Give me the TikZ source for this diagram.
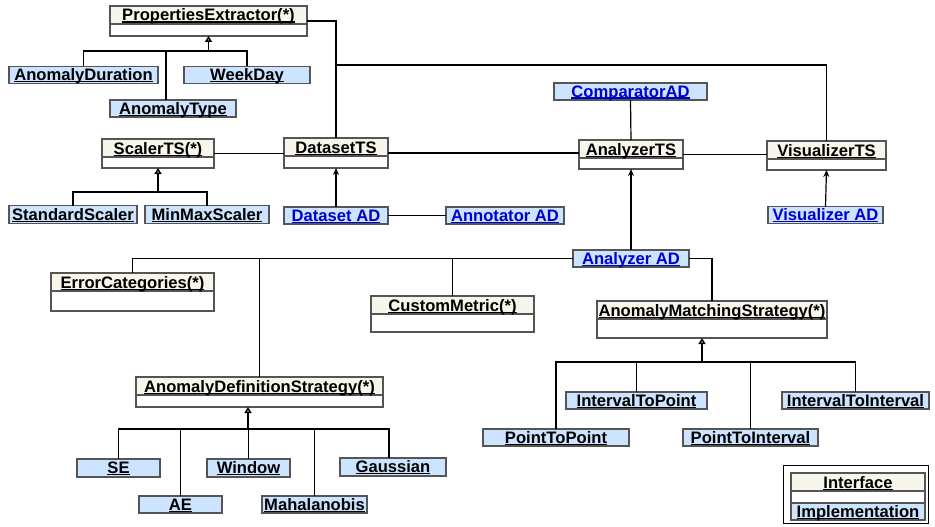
\documentclass[tikz,border=0pt]{standalone}
\usepackage{fontspec}
\setmainfont{Liberation Sans}
\usetikzlibrary{arrows.meta, positioning}
\definecolor{hdrC}{RGB}{248,245,234}
\definecolor{implC}{RGB}{204,228,255}
\definecolor{edgeC}{RGB}{85,85,85}
\definecolor{adC}{RGB}{0,0,205}
\newcommand\uln[1]{\setbox0=\hbox{#1}\rlap{\rule[-1.6pt]{\wd0}{1.1pt}}\box0}
\tikzset{
  boxfont/.style={font=\fontsize{16.6pt}{19pt}\selectfont\bfseries},
  impl/.style={boxfont, draw=edgeC, line width=1.2pt, fill=implC, inner sep=0pt, outer sep=0pt,
    minimum height=17pt, text height=13pt, text depth=2pt},
  adimpl/.style={impl, text=adC},
  iface/.style={boxfont, draw=edgeC, line width=1.2pt, fill=white, inner sep=0pt, outer sep=0pt, text height=14pt,
    path picture={\fill[hdrC] (path picture bounding box.north west) rectangle ([yshift=-18pt]path picture bounding box.north east);
      \draw[edgeC, line width=1.2pt] ([yshift=-18pt]path picture bounding box.north west) -- ([yshift=-18pt]path picture bounding box.north east);}},
  conn/.style={line width=1.2pt},
  inherit/.style={line width=1.5pt, -{Triangle[open, length=6pt, width=7pt]}},
  uses/.style={line width=1.2pt, -{Stealth[length=7pt, width=6pt]}}
}
% interface box: name, centre, width, height, title
\newcommand\ifbox[5]{%
  \pgfmathsetmacro\ifdepth{#4-16}%
  \node[iface, minimum width=#3pt, minimum height=#4pt, text depth=\ifdepth pt] (#1) at (#2) {\uln{#5}};}

\begin{document}
\begin{tikzpicture}[x=1pt, y=-1pt]
\useasboundingbox (0,0) rectangle (935,527);
% Top: properties extractor and its implementations
\ifbox{propext}{208.5,21}{197}{30}{PropertiesExtractor(*)}
\node[impl, minimum width=149pt] (anomdur) at (83.5,75) {\uln{AnomalyDuration}};
\node[impl, minimum width=126pt] (weekday) at (247,75) {\uln{WeekDay}};
\node[impl, minimum width=126pt] (anomtype) at (173,108.5) {\uln{AnomalyType}};
\coordinate (prophub) at (208.5,51);
\coordinate (typetop) at ([xshift=-7pt]anomtype.north);
\draw[conn] (anomdur.north) |- (prophub) -| (weekday.north);
\draw[conn] (typetop) -- (typetop |- prophub);
\draw[inherit] (prophub) -- (propext.south);
% Middle row: the TS interfaces
\ifbox{scaler}{158,153.5}{112}{29}{ScalerTS(*)}
\ifbox{datasetts}{336,153}{104}{30}{DatasetTS}
\ifbox{analyzerts}{631,154.5}{104}{29}{AnalyzerTS}
\ifbox{visualizerts}{826.5,155.5}{119}{29}{VisualizerTS}
\node[adimpl, minimum width=153pt] (comparatorad) at (630.5,91.5) {\uln{ComparatorAD}};
\draw[conn] (propext.east) -| (datasetts.north);
\coordinate (rail) at (336,65);
\draw[conn] (rail) -| (visualizerts.north);
\draw[conn] (scaler.east) -- (scaler.east -| datasetts.west);
\draw[conn] (datasetts.east) -- (datasetts.east -| analyzerts.west);
\draw[conn] (analyzerts.east) -- (analyzerts.east -| visualizerts.west);
\draw[conn] (comparatorad.south) -- (analyzerts.north);
% scaler implementations
\node[impl, minimum width=128pt, minimum height=18pt] (stdscaler) at (73,214.5) {\uln{StandardScaler}};
\node[impl, minimum width=124pt, minimum height=18pt] (minmax) at (207,214.5) {\uln{MinMaxScaler}};
\coordinate (scalehub) at (158,192);
\draw[conn] (stdscaler.north) |- (scalehub) -| (minmax.north);
\draw[inherit] (scalehub) -- (scaler.south);
% AD implementations of the TS interfaces
\node[adimpl, minimum width=104pt] (datasetad) at (336,215.5) {\uln{Dataset AD}};
\node[adimpl, minimum width=118pt] (annotad) at (505,215.5) {\uln{Annotator AD}};
\node[adimpl, minimum width=115pt] (visualizerad) at (825.5,215) {\uln{Visualizer AD}};
\node[adimpl, minimum width=116pt] (analyzerad) at (631,258.5) {\uln{Analyzer AD}};
\draw[uses] (datasetad.north) -- (datasetts.south);
\draw[conn] (datasetad.east) -- (annotad.west);
\draw[uses] (visualizerad.north) -- (visualizerts.south);
\draw[uses] (analyzerad.north) -- (analyzerts.south);
% Analyzer AD parts
\ifbox{errcat}{132.5,292}{163}{38}{ErrorCategories(*)}
\ifbox{custmetric}{452.5,314}{163}{36}{CustomMetric(*)}
\ifbox{matching}{712,319.5}{230}{37}{AnomalyMatchingStrategy(*)}
\ifbox{definition}{259.5,392}{247}{30}{AnomalyDefinitionStrategy(*)}
\draw[conn] (analyzerad.west) -| (errcat.north);
\draw[conn] (custmetric.north) |- (analyzerad.west);
\draw[conn] (definition.north) |- (analyzerad.west);
\draw[conn] (analyzerad.east) -| (matching.north);
% matching strategies
\node[impl, minimum width=141pt] (i2p) at (636.5,400.5) {\uln{IntervalToPoint}};
\node[impl, minimum width=147pt] (i2i) at (855.5,400.5) {\uln{IntervalToInterval}};
\node[impl, minimum width=146pt] (p2p) at (556,437.5) {\uln{PointToPoint}};
\node[impl, minimum width=135pt] (p2i) at (750.5,437.5) {\uln{PointToInterval}};
\coordinate (matchhub) at (702,362);
\draw[conn] (p2p.north) |- (matchhub) -| (i2i.north);
\draw[conn] (i2p.north) -- (i2p.north |- matchhub);
\draw[conn] (p2i.north) -- (p2i.north |- matchhub);
\draw[inherit] (matchhub) -- (matchhub |- matching.south);
% definition strategies
\node[impl, minimum width=83pt, minimum height=18pt] (se) at (118.5,468) {\uln{SE}};
\node[impl, minimum width=83pt, minimum height=18pt] (window) at (248.5,468) {\uln{Window}};
\node[impl, minimum width=106pt, minimum height=18pt] (gaussian) at (393,467) {\uln{Gaussian}};
\node[impl, minimum width=83pt] (ae) at (180.5,504.5) {\uln{AE}};
\node[impl, minimum width=105pt] (mahal) at (314.5,504.5) {\uln{Mahalanobis}};
\coordinate (defhub) at (248,429);
\coordinate (gausstop) at ([xshift=-4pt]gaussian.north);
\draw[conn] (se.north) |- (defhub) -| (gausstop);
\draw[conn] (ae.north) -- (ae.north |- defhub);
\draw[conn] (window.north) -- (window.north |- defhub);
\draw[conn] (mahal.north) -- (mahal.north |- defhub);
\draw[inherit] (defhub) -- (defhub |- definition.south);
% Legend
\node[draw=black, line width=1pt, inner sep=0pt, minimum width=145pt, minimum height=58pt] (legend) at (855.5,494) {};
\ifbox{legiface}{858,488}{134}{30}{Interface}
\node[impl, minimum width=134pt, below=0pt of legiface] (legimpl) {\uln{Implementation}};
\end{tikzpicture}
\end{document}
